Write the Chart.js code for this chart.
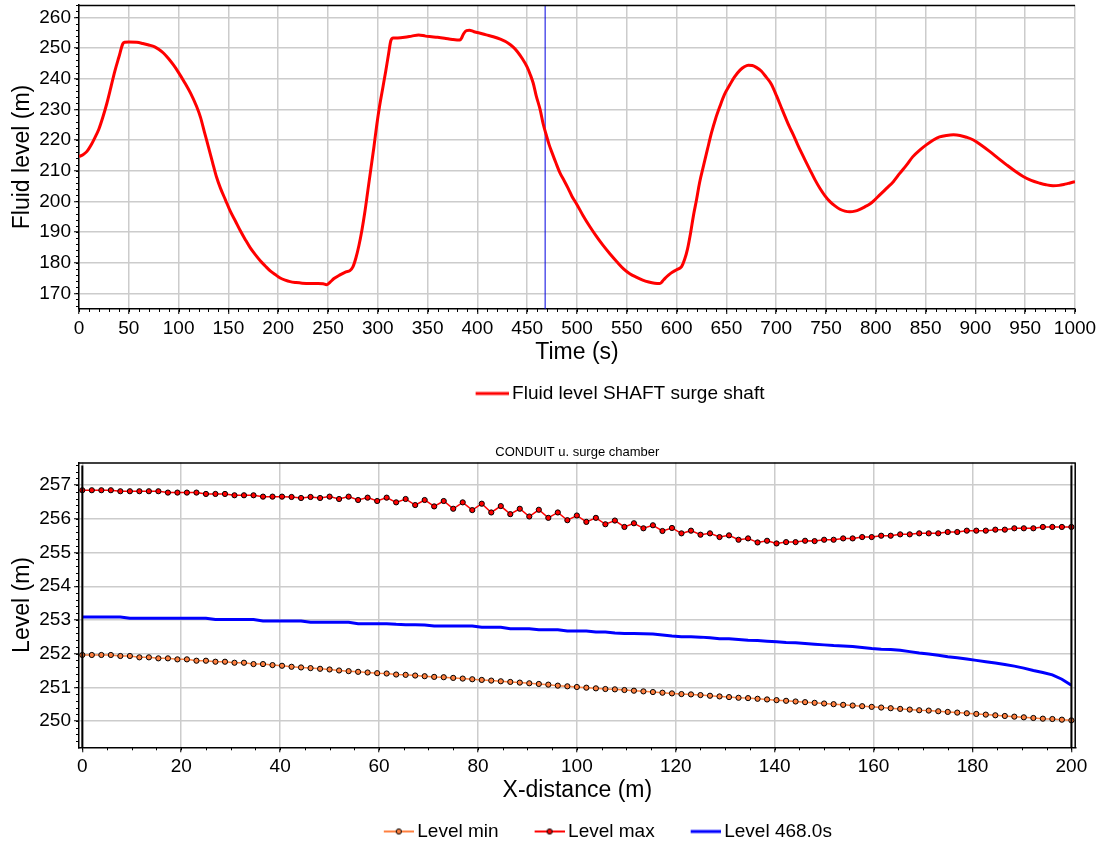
<!DOCTYPE html>
<html>
<head>
<meta charset="utf-8">
<title>Surge shaft fluid level and conduit level envelope</title>
<script src="https://cdn.jsdelivr.net/npm/chart.js@4.4.1/dist/chart.umd.min.js"></script>
<style>
  html, body { margin: 0; padding: 0; background: #fff; overflow: hidden; width: 1104px; height: 847px; }
  canvas { position: absolute; left: 0; }
  #shaft { top: 0; }
  #conduit { top: 430px; }
</style>
</head>
<body>
<canvas id="shaft" width="1104" height="413"></canvas>
<canvas id="conduit" width="1104" height="421"></canvas>
<script>
// ---------- Surge shaft: fluid level over time ----------
const TIME_S = [
  0, 4, 8, 12, 16, 20, 24, 28, 32, 36, 40, 44, 46, 50, 58, 64, 70, 76, 80, 85,
  90, 95, 100, 106, 112, 118, 122, 126, 130, 134, 138, 142, 147, 152, 157, 162, 167, 172, 177, 182,
  187, 192, 197, 202, 207, 212, 218, 224, 232, 240, 245, 248.5, 252, 256, 262, 268, 272, 275, 278, 281,
  284, 287, 290, 293, 296, 299, 302, 305, 308, 311, 313, 315.5, 320, 327, 334, 341, 348, 354, 360, 367,
  375, 382.5, 384, 386, 389, 392, 396, 402, 409, 416, 423, 431, 436, 440, 445, 450, 453, 456, 459, 463,
  466, 469, 472, 475, 479, 483, 487, 491, 495, 500, 506, 513, 519, 526, 533, 540, 547, 553, 560, 566,
  572, 578, 583.3, 587, 590, 594, 600, 605, 608, 611, 614, 617, 620, 623, 626.8, 631, 635, 639, 643.5, 648,
  653.6, 658, 663.7, 668, 672, 676, 680, 685, 690, 695, 700.5, 705, 708.8, 713, 717.2, 721.4, 725.6, 730, 734, 739,
  744, 749, 754, 759, 764, 769, 774, 779, 784, 789, 794, 799, 804, 811, 817.6, 824, 831, 837, 844.4, 851,
  857.8, 864, 871, 878, 884.5, 891, 898, 906, 914.6, 923, 931.3, 940, 948, 956, 964.8, 971, 978, 984, 990, 995,
  1000
];
const FLUID_LEVEL_M = [
  214.6, 215.2, 216.3, 218.3, 220.8, 223.6, 227.5, 232.0, 237.2, 242.5, 247.0, 251.4, 251.9, 252.0, 251.9, 251.5, 251.0, 250.4, 249.6, 248.3,
  246.5, 244.4, 242.0, 238.8, 235.3, 231.0, 227.4, 222.5, 217.7, 212.8, 208.0, 204.3, 200.5, 196.7, 193.6, 190.4, 187.5, 184.8, 182.6, 180.6,
  178.9, 177.3, 176.1, 175.0, 174.3, 173.8, 173.5, 173.3, 173.2, 173.2, 173.1, 172.8, 173.6, 174.8, 176.0, 177.0, 177.4, 178.6, 181.5, 185.5,
  190.5, 196.5, 203.5, 210.5, 217.5, 225.0, 231.5, 237.0, 242.5, 248.5, 252.3, 253.3, 253.3, 253.5, 253.9, 254.3, 253.9, 253.7, 253.5, 253.2,
  252.8, 252.6, 253.2, 254.6, 255.7, 255.8, 255.4, 254.9, 254.3, 253.7, 252.9, 251.6, 250.3, 248.9, 246.6, 243.8, 241.4, 238.6, 234.5, 229.9,
  225.3, 221.8, 218.5, 215.8, 212.4, 209.2, 206.8, 204.3, 201.6, 198.9, 195.4, 191.7, 188.8, 185.7, 182.9, 180.3, 177.9, 176.4, 175.2, 174.3,
  173.7, 173.3, 173.2, 174.4, 175.4, 176.5, 177.7, 178.7, 181.0, 184.5, 189.6, 195.5, 200.5, 206.0, 211.3, 217.0, 222.3, 226.8, 231.0, 234.8,
  238.1, 240.5, 242.8, 243.9, 244.4, 244.3, 243.7, 242.5, 240.5, 238.3, 234.3, 230.7, 227.7, 224.5, 221.7, 218.6, 215.7, 212.8, 210.2, 207.0,
  204.2, 201.8, 199.9, 198.5, 197.4, 196.8, 196.6, 196.8, 197.4, 198.2, 199.1, 200.5, 202.1, 204.3, 206.4, 209.1, 211.9, 214.5, 216.8, 218.5,
  220.0, 221.0, 221.5, 221.7, 221.5, 220.9, 220.0, 218.3, 216.2, 214.0, 211.9, 209.8, 208.1, 206.8, 205.9, 205.4, 205.1, 205.2, 205.6, 206.0,
  206.4
];
const CURSOR_TIME_S = 468;
const TIME_TICKS = [0, 50, 100, 150, 200, 250, 300, 350, 400, 450, 500, 550, 600, 650, 700, 750, 800, 850, 900, 950, 1000];
const FLUID_TICKS = [170, 180, 190, 200, 210, 220, 230, 240, 250, 260];

// ---------- Conduit: level envelope along the pipe ----------
const STATION_M = [
  0, 1.92, 3.85, 5.77, 7.69, 9.62, 11.54, 13.46, 15.38, 17.31, 19.23, 21.15, 23.08,
  25, 26.92, 28.85, 30.77, 32.69, 34.62, 36.54, 38.46, 40.38, 42.31, 44.23, 46.15, 48.08,
  50, 51.92, 53.85, 55.77, 57.69, 59.62, 61.54, 63.46, 65.38, 67.31, 69.23, 71.15, 73.08,
  75, 76.92, 78.85, 80.77, 82.69, 84.62, 86.54, 88.46, 90.38, 92.31, 94.23, 96.15, 98.08,
  100, 101.92, 103.85, 105.77, 107.69, 109.62, 111.54, 113.46, 115.38, 117.31, 119.23, 121.15, 123.08,
  125, 126.92, 128.85, 130.77, 132.69, 134.62, 136.54, 138.46, 140.38, 142.31, 144.23, 146.15, 148.08,
  150, 151.92, 153.85, 155.77, 157.69, 159.62, 161.54, 163.46, 165.38, 167.31, 169.23, 171.15, 173.08,
  175, 176.92, 178.85, 180.77, 182.69, 184.62, 186.54, 188.46, 190.38, 192.31, 194.23, 196.15, 198.08,
  200
];
const LEVEL_MIN_M = [
  251.96, 251.96, 251.96, 251.96, 251.93, 251.93, 251.89, 251.89, 251.86, 251.86, 251.83, 251.83, 251.79,
  251.79, 251.76, 251.76, 251.73, 251.73, 251.69, 251.69, 251.66, 251.64, 251.61, 251.59, 251.57, 251.55,
  251.53, 251.50, 251.48, 251.46, 251.44, 251.42, 251.41, 251.38, 251.37, 251.35, 251.33, 251.31, 251.30,
  251.28, 251.26, 251.24, 251.22, 251.20, 251.18, 251.16, 251.14, 251.12, 251.10, 251.08, 251.05, 251.03,
  251.01, 250.99, 250.97, 250.95, 250.94, 250.92, 250.90, 250.88, 250.86, 250.84, 250.82, 250.80, 250.79,
  250.77, 250.75, 250.73, 250.71, 250.69, 250.68, 250.66, 250.64, 250.62, 250.60, 250.58, 250.56, 250.54,
  250.52, 250.50, 250.48, 250.46, 250.44, 250.42, 250.40, 250.38, 250.36, 250.34, 250.32, 250.31, 250.29,
  250.27, 250.25, 250.23, 250.21, 250.19, 250.17, 250.15, 250.13, 250.11, 250.09, 250.07, 250.06, 250.04,
  250.02
];
const LEVEL_MAX_M = [
  256.85, 256.85, 256.85, 256.85, 256.82, 256.82, 256.82, 256.82, 256.82, 256.78, 256.78, 256.78, 256.78,
  256.74, 256.74, 256.74, 256.70, 256.70, 256.70, 256.66, 256.66, 256.66, 256.65, 256.62, 256.65, 256.62,
  256.66, 256.59, 256.66, 256.56, 256.63, 256.53, 256.63, 256.49, 256.59, 256.41, 256.56, 256.37, 256.53,
  256.30, 256.49, 256.26, 256.45, 256.19, 256.38, 256.14, 256.30, 256.07, 256.27, 256.03, 256.19, 255.96,
  256.10, 255.91, 256.03, 255.84, 255.95, 255.76, 255.87, 255.72, 255.81, 255.64, 255.73, 255.57, 255.65,
  255.53, 255.57, 255.46, 255.51, 255.38, 255.42, 255.30, 255.35, 255.27, 255.31, 255.31, 255.35, 255.34,
  255.38, 255.38, 255.42, 255.42, 255.46, 255.46, 255.50, 255.50, 255.54, 255.54, 255.57, 255.57, 255.57,
  255.61, 255.61, 255.65, 255.65, 255.65, 255.68, 255.68, 255.72, 255.72, 255.72, 255.76, 255.76, 255.76,
  255.76
];
const LEVEL_AT_468_M = [
  253.09, 253.09, 253.09, 253.09, 253.09, 253.05, 253.05, 253.05, 253.05, 253.05, 253.05, 253.05, 253.05,
  253.05, 253.01, 253.01, 253.01, 253.01, 253.01, 252.97, 252.97, 252.97, 252.97, 252.97, 252.93, 252.93,
  252.93, 252.93, 252.93, 252.89, 252.89, 252.89, 252.89, 252.87, 252.86, 252.86, 252.85, 252.82, 252.82,
  252.82, 252.82, 252.82, 252.78, 252.78, 252.78, 252.74, 252.74, 252.74, 252.71, 252.71, 252.71, 252.67,
  252.67, 252.67, 252.64, 252.64, 252.61, 252.60, 252.60, 252.59, 252.58, 252.55, 252.52, 252.50, 252.50,
  252.49, 252.47, 252.44, 252.44, 252.42, 252.40, 252.39, 252.37, 252.35, 252.33, 252.32, 252.30, 252.28,
  252.26, 252.24, 252.23, 252.21, 252.18, 252.15, 252.13, 252.12, 252.10, 252.06, 252.02, 251.99, 251.95,
  251.91, 251.88, 251.84, 251.80, 251.76, 251.72, 251.68, 251.63, 251.57, 251.50, 251.44, 251.37, 251.24,
  251.06
];
const STATION_TICKS = [0, 20, 40, 60, 80, 100, 120, 140, 160, 180, 200];
const LEVEL_TICKS = [250, 251, 252, 253, 254, 255, 256, 257];
const PIPE_ENDS_M = [0, 200];

// ---------- shared styling ----------
const FONT = "'Liberation Sans', Arial, Helvetica, sans-serif";
Chart.defaults.font.family = FONT;
Chart.defaults.color = '#000';
const GRID = '#CCCCCC';
const LEGEND_FONT = 19;

function pairs(xs, ys) { return xs.map((x, i) => ({ x: x, y: ys[i] })); }

function fixTicks(values) {
  return function (scale) { scale.ticks = values.map(v => ({ value: v })); };
}
function fixSize(size) {
  return function (scale) {
    if (scale.isHorizontal()) scale.height = size; else scale.width = size;
    scale.paddingLeft = scale.paddingRight = scale.paddingTop = scale.paddingBottom = 0;
  };
}

// legend glyph: a short line (optionally with a round marker) that ends
// `gap` px before the label text; `box` is the legend pointStyleWidth
function legendGlyph(color, box, lineLen, lineWidth, markerFill, gap) {
  const w = box + LEGEND_FONT - 2 * gap;
  const c = document.createElement('canvas');
  c.width = w; c.height = 12;
  const g = c.getContext('2d');
  const x0 = w - lineLen;
  g.strokeStyle = color; g.lineWidth = lineWidth;
  g.beginPath(); g.moveTo(x0, 6); g.lineTo(w, 6); g.stroke();
  if (markerFill) {
    g.beginPath(); g.arc(x0 + lineLen / 2, 6, 2.6, 0, Math.PI * 2);
    g.fillStyle = markerFill; g.fill();
    g.lineWidth = 1; g.strokeStyle = '#000'; g.stroke();
  }
  return c;
}

// minor tick marks on both axes
const minorTicks = {
  id: 'minorTicks',
  afterDraw(chart, args, opts) {
    const ctx = chart.ctx;
    ctx.save();
    ctx.strokeStyle = '#000';
    ctx.lineWidth = 1;
    ['x', 'y'].forEach(id => {
      const s = chart.scales[id];
      const step = opts[id];
      for (let k = Math.ceil(s.min / step - 1e-9); k * step <= s.max + 1e-9; k++) {
        const p = Math.round(s.getPixelForValue(k * step)) + 0.5;
        ctx.beginPath();
        if (id === 'x') { ctx.moveTo(p, s.top); ctx.lineTo(p, s.top + opts.length); }
        else { ctx.moveTo(s.right, p); ctx.lineTo(s.right - opts.length, p); }
        ctx.stroke();
      }
    });
    ctx.restore();
  }
};

// plot frame edges and pipe-end verticals
const frame = {
  id: 'frame',
  afterDatasetsDraw(chart, args, opts) {
    const { ctx, chartArea: a } = chart;
    ctx.save();
    ctx.strokeStyle = '#000';
    ctx.lineWidth = 1.5;
    ctx.beginPath();
    ctx.moveTo(a.left, a.top + 0.5); ctx.lineTo(a.right, a.top + 0.5);
    if (opts.closeRight) { ctx.moveTo(a.right - 0.5, a.top); ctx.lineTo(a.right - 0.5, a.bottom); }
    ctx.stroke();
    if (opts.pipeEnds) {
      ctx.lineWidth = 2;
      opts.pipeEnds.forEach(v => {
        const p = chart.scales.x.getPixelForValue(v);
        ctx.beginPath(); ctx.moveTo(p, a.top + 3); ctx.lineTo(p, a.bottom); ctx.stroke();
      });
    }
    ctx.restore();
  }
};

// moves the legend row sideways
const legendOffset = {
  id: 'legendOffset',
  afterLayout(chart, args, opts) {
    if (chart.legend && opts.dx) { chart.legend.left += opts.dx; chart.legend.right += opts.dx; }
  }
};

function axisCommon(ticks) {
  return {
    type: 'linear',
    afterBuildTicks: fixTicks(ticks),
    grid: { color: GRID, lineWidth: 1.5, tickColor: '#000', tickLength: 5, tickWidth: 1 },
    border: { color: '#000', width: 1.5 },
    ticks: {
      font: { size: 19 }, color: '#000', padding: 3,
      autoSkip: false, maxRotation: 0, minRotation: 0,
      callback: v => String(v)
    }
  };
}

// ---------- chart 1 ----------
const SHAFT_Y_MIN = 164.87, SHAFT_Y_MAX = 264.05;
const shaftGlyph = legendGlyph('#FF0000', 32, 33, 3, null, 3.5);

new Chart(document.getElementById('shaft'), {
  type: 'line',
  data: {
    datasets: [
      {
        label: 'Fluid level SHAFT surge shaft',
        data: pairs(TIME_S, FLUID_LEVEL_M),
        borderColor: '#FF0000',
        borderWidth: 3,
        pointRadius: 0,
        cubicInterpolationMode: 'monotone',
        order: 1
      },
      {
        label: 'cursor',
        data: [{ x: CURSOR_TIME_S, y: SHAFT_Y_MIN }, { x: CURSOR_TIME_S, y: SHAFT_Y_MAX }],
        borderColor: '#0000E0',
        borderWidth: 1,
        pointRadius: 0,
        order: 2
      }
    ]
  },
  options: {
    responsive: false,
    animation: false,
    events: [],
    layout: { padding: { top: 5, right: 29, left: 0, bottom: 0 } },
    scales: {
      x: Object.assign(axisCommon(TIME_TICKS), {
        min: 0, max: 1000,
        afterFit: fixSize(65),
        title: { display: true, text: 'Time (s)', font: { size: 23 }, color: '#000', padding: { top: 0, bottom: 8 } }
      }),
      y: Object.assign(axisCommon(FLUID_TICKS), {
        min: SHAFT_Y_MIN, max: SHAFT_Y_MAX,
        afterFit: fixSize(79),
        title: { display: true, text: 'Fluid level (m)', font: { size: 23 }, color: '#000', padding: { top: 9, bottom: 0 } }
      })
    },
    plugins: {
      legend: {
        position: 'bottom',
        fullSize: false,
        labels: {
          font: { size: LEGEND_FONT },
          color: '#000',
          padding: 10,
          usePointStyle: true,
          pointStyleWidth: 32,
          filter: item => item.datasetIndex === 0,
          generateLabels(chart) {
            return Chart.defaults.plugins.legend.labels.generateLabels(chart)
              .map(it => Object.assign(it, { pointStyle: shaftGlyph }));
          }
        }
      },
      tooltip: { enabled: false },
      minorTicks: { x: 10, y: 2, length: 3 },
      frame: { closeRight: false },
      legendOffset: { dx: 40.5 }
    }
  },
  plugins: [minorTicks, frame, legendOffset]
});

// ---------- chart 2 ----------
const conduitGlyphs = [
  legendGlyph('#FF8040', 50, 30, 2, '#FF8040', 3.5),
  legendGlyph('#FF0000', 50, 30, 2, '#FF0000', 3.5),
  legendGlyph('#0000FF', 50, 30, 3, null, 3.5)
];

new Chart(document.getElementById('conduit'), {
  type: 'line',
  data: {
    datasets: [
      {
        label: 'Level min',
        data: pairs(STATION_M, LEVEL_MIN_M),
        borderColor: '#FF8040',
        borderWidth: 1.5,
        pointRadius: 2.6,
        pointBackgroundColor: '#FF8040',
        pointBorderColor: '#000',
        pointBorderWidth: 1,
        order: 3
      },
      {
        label: 'Level max',
        data: pairs(STATION_M, LEVEL_MAX_M),
        borderColor: '#FF0000',
        borderWidth: 1.5,
        pointRadius: 2.6,
        pointBackgroundColor: '#FF0000',
        pointBorderColor: '#000',
        pointBorderWidth: 1,
        order: 2
      },
      {
        label: 'Level 468.0s',
        data: pairs(STATION_M, LEVEL_AT_468_M),
        borderColor: '#0000FF',
        borderWidth: 3,
        pointRadius: 0,
        order: 1
      }
    ]
  },
  options: {
    responsive: false,
    animation: false,
    events: [],
    layout: { padding: { top: 0, right: 28.3, left: 0, bottom: 0 } },
    scales: {
      x: Object.assign(axisCommon(STATION_TICKS), {
        min: -0.67, max: 200.87,
        afterFit: fixSize(64.7),
        title: { display: true, text: 'X-distance (m)', font: { size: 23 }, color: '#000', padding: { top: 0, bottom: 7.2 } }
      }),
      y: Object.assign(axisCommon(LEVEL_TICKS), {
        min: 249.22, max: 257.67,
        afterFit: fixSize(79),
        title: { display: true, text: 'Level (m)', font: { size: 23 }, color: '#000', padding: { top: 9, bottom: 0 } }
      })
    },
    plugins: {
      title: {
        display: true,
        fullSize: false,
        text: 'CONDUIT u. surge chamber',
        font: { size: 13, weight: 'normal' },
        color: '#000',
        padding: { top: 15, bottom: 2 }
      },
      legend: {
        position: 'bottom',
        fullSize: false,
        labels: {
          font: { size: LEGEND_FONT },
          color: '#000',
          padding: 10,
          usePointStyle: true,
          pointStyleWidth: 50,
          sort: (a, b) => a.datasetIndex - b.datasetIndex,
          generateLabels(chart) {
            return Chart.defaults.plugins.legend.labels.generateLabels(chart)
              .map(it => Object.assign(it, { pointStyle: conduitGlyphs[it.datasetIndex] }));
          }
        }
      },
      tooltip: { enabled: false },
      minorTicks: { x: 5, y: 0.2, length: 3 },
      frame: { closeRight: true, pipeEnds: PIPE_ENDS_M },
      legendOffset: { dx: 17.5 }
    }
  },
  plugins: [minorTicks, frame, legendOffset]
});
</script>
</body>
</html>
